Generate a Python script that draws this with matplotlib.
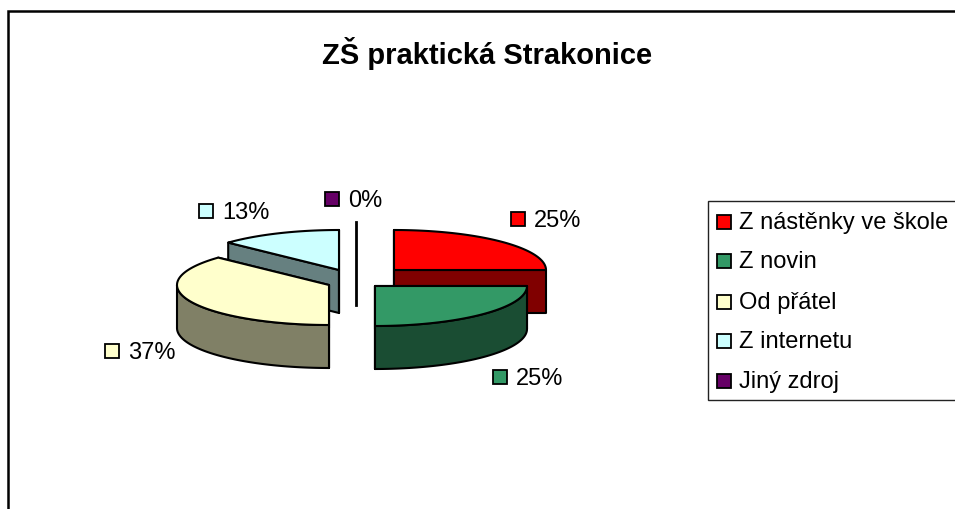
import numpy as np
import matplotlib
matplotlib.use('Agg')
import matplotlib.pyplot as plt
from matplotlib.patches import Polygon, Rectangle
from matplotlib.colors import to_rgb

plt.rcParams['font.family'] = ['Liberation Sans', 'DejaVu Sans']

title = 'ZŠ praktická Strakonice'
categories = ['Z nástěnky ve škole', 'Z novin', 'Od přátel', 'Z internetu', 'Jiný zdroj']
values = [25, 25, 37, 13, 0]
colors = ['#FF0000', '#339966', '#FFFFCC', '#CCFFFF', '#660066']

# layout in pixels, y down
apex = [(394, 271), (375, 287), (329, 286), (339, 271), (356, 263)]
label_pos = [(511, 220), (493, 378), (105, 352), (199, 212), (325, 200)]
draw_order = [4, 3, 0, 2, 1]
rx, ry, depth = 152, 40, 43


def rim(cx, cy, a0, a1):
    t = np.radians(np.linspace(a0, a1, 90))
    return np.column_stack([cx + rx * np.sin(t), cy - ry * np.cos(t)])


def draw_slice(ax, cx, cy, a0, a1, color):
    dark = tuple(c * 0.5 for c in to_rgb(color))
    kw = dict(edgecolor='black', linewidth=1.5, joinstyle='round')
    top = rim(cx, cy, a0, a1)
    drop = np.array([0, depth])
    # the two cut faces, then the round side, then the top
    for p in (top[0], top[-1]):
        ax.add_patch(Polygon([(cx, cy), p, p + drop, (cx, cy + depth)], facecolor=dark, **kw))
    lo, hi = max(a0, 90), min(a1, 270)
    if hi > lo:
        arc = rim(cx, cy, lo, hi)
        ax.add_patch(Polygon(np.vstack([arc, arc[::-1] + drop]), facecolor=dark, **kw))
    ax.add_patch(Polygon(np.vstack([[(cx, cy)], top]), facecolor=color, **kw))


fig = plt.figure(figsize=(9.55, 5.10), dpi=100)
ax = fig.add_axes([0, 0, 1, 1])
ax.set_xlim(0, 955)
ax.set_ylim(510, 0)
ax.axis('off')

# chart frame, cut off by the image on the right and bottom
ax.plot([7.5, 7.5, 955], [510, 11.5, 11.5], color='black', linewidth=1.8, solid_joinstyle='miter')

ax.text(487, 53, title, fontsize=21, fontweight='bold', ha='center', va='center')

edges = np.cumsum([0] + values) / sum(values) * 360
for i in draw_order:
    cx, cy = apex[i]
    if values[i] == 0:
        ax.plot([cx, cx], [cy - ry, cy + depth], color='black', linewidth=2)
    else:
        draw_slice(ax, cx, cy, edges[i], edges[i + 1], colors[i])

for i, v in enumerate(values):
    x, y = label_pos[i]
    ax.add_patch(Rectangle((x, y - 7), 14, 14, facecolor=colors[i], edgecolor='black', linewidth=1.3))
    ax.text(x + 23, y + 1, f'{v}%', fontsize=17, ha='left', va='center')

# legend
ax.add_patch(Rectangle((707.5, 202), 260, 199, facecolor='white', edgecolor='#222222', linewidth=1))
legend_y = [223, 262, 303, 342, 382]
for name, c, y in zip(categories, colors, legend_y):
    ax.add_patch(Rectangle((717, y - 7), 14, 14, facecolor=c, edgecolor='black', linewidth=1.3))
    ax.text(739, y, name, fontsize=17, ha='left', va='center')

fig.savefig('out.png', dpi=100)
